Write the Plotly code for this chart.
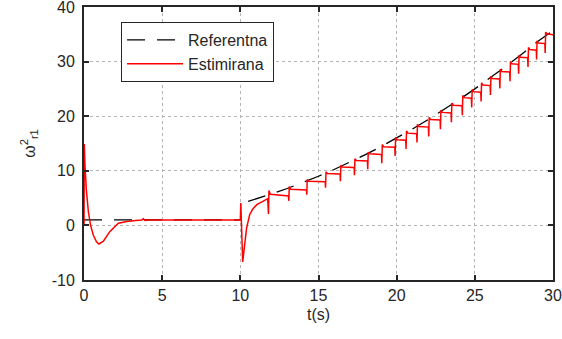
import plotly.graph_objects as go

# Reference (Referentna) values
ref_t = [0, 10, None, 10.5, 11, 12, 13, 14, 15, 16, 17, 18, 19, 20, 21, 22, 23, 24, 25, 26, 27, 28, 29, 30]
ref_v = [1, 1, None, 4.4, 4.84, 5.76, 6.76, 7.84, 9.0, 10.24, 11.56, 12.96, 14.44, 16.0, 17.64, 19.36,
         21.16, 23.04, 25.0, 27.04, 29.16, 31.36, 33.64, 35.7]

# Estimated (Estimirana) values
est_t = [0, 0.02, 0.06, 0.15, 0.28, 0.42, 0.6, 0.8, 0.95, 1.24, 1.66, 2.2, 2.73, 3.3, 3.7, 3.8, 3.9, 4.2, 5, 10.0,
         10.03, 10.15, 10.4, 10.6, 10.8, 11.05, 11.5, 11.75,
         11.8, 11.83, 11.92,
         13.08, 13.1, 13.13, 13.22,
         14.23, 14.25, 14.28, 14.37,
         15.43, 15.45, 15.48, 15.57,
         16.38, 16.4, 16.43, 16.52,
         17.28, 17.3, 17.33, 17.42,
         18.13, 18.15, 18.18, 18.27,
         19.03, 19.05, 19.08, 19.17,
         19.88, 19.9, 19.93, 20.02,
         20.58, 20.6, 20.63, 20.72,
         21.28, 21.3, 21.33, 21.42,
         22.03, 22.05, 22.08, 22.17,
         22.78, 22.8, 22.83, 22.92,
         23.48, 23.5, 23.53, 23.62,
         24.18, 24.2, 24.23, 24.32,
         24.78, 24.8, 24.83, 24.92,
         25.38, 25.4, 25.43, 25.52,
         25.98, 26.0, 26.03, 26.12,
         26.58, 26.6, 26.63, 26.72,
         27.23, 27.25, 27.28, 27.37,
         27.78, 27.8, 27.83, 27.92,
         28.38, 28.4, 28.43, 28.52,
         28.93, 28.95, 28.98, 29.07,
         29.48, 29.5, 29.53, 29.62, 30]
est_v = [0, 14.9, 11.1, 6.5, 2.5, 0.0, -1.8, -3.0, -3.4, -2.9, -1.1, 0.4, 0.73, 0.9, 1.0, 1.2, 0.9, 1.0, 1.0, 1.0,
         4.1, -6.7, -0.5, 2.0, 3.0, 3.8, 4.5, 4.9,
         2.1, 6.4, 5.7,
         5.4, 4.5, 7.1, 6.6,
         6.5, 5.6, 8.4, 8.1,
         8.0, 6.9, 9.8, 9.5,
         9.4, 8.1, 11.0, 10.7,
         10.6, 9.2, 12.2, 11.9,
         11.8, 10.3, 13.4, 13.1,
         13.0, 11.4, 14.8, 14.4,
         14.3, 12.7, 16.1, 15.7,
         15.6, 14.0, 17.3, 16.9,
         16.8, 15.2, 18.5, 18.1,
         18.0, 16.3, 19.8, 19.4,
         19.3, 17.6, 21.1, 20.7,
         20.6, 18.9, 22.4, 22.0,
         21.9, 20.2, 23.8, 23.4,
         23.3, 21.6, 24.9, 24.5,
         24.4, 22.7, 26.1, 25.7,
         25.6, 23.9, 27.3, 26.9,
         26.8, 25.1, 28.6, 28.2,
         28.1, 26.4, 30.0, 29.6,
         29.5, 27.8, 31.2, 30.8,
         30.7, 29.0, 32.6, 32.2,
         32.1, 30.4, 33.8, 33.4,
         33.3, 31.6, 35.4, 35.1, 34.9]

x_ticks = [0, 5, 10, 15, 20, 25, 30]
y_ticks = [-10, 0, 10, 20, 30, 40]
y_tick_labels = ["-10", "0", "10", "20", "30", "40"]

font_family = "Liberation Sans, Arial, sans-serif"
text_color = "#262626"

fig = go.Figure()
fig.add_trace(go.Scatter(x=ref_t, y=ref_v, mode="lines", name="Referentna",
                         line=dict(color="black", width=1.3, dash="18px,12px")))
fig.add_trace(go.Scatter(x=est_t, y=est_v, mode="lines", name="Estimirana",
                         line=dict(color="#ff0000", width=1.5)))

axis_common = dict(showline=True, linecolor="#262626", linewidth=2, mirror="ticks",
                   ticks="inside", ticklen=5, tickwidth=2, tickcolor="#262626",
                   showgrid=True, gridcolor="#b4b4b4", gridwidth=1, griddash="dot",
                   zeroline=False, automargin=False, ticklabeloverflow="allow",
                   tickfont=dict(family=font_family, size=16, color=text_color))

fig.update_xaxes(range=[0, 30], tickvals=x_ticks, **axis_common,
                 title=dict(text="t(s)", font=dict(family=font_family, size=16, color=text_color),
                            standoff=6))
fig.update_yaxes(range=[-10, 40], tickvals=y_ticks, ticktext=y_tick_labels, ticklabelstandoff=4,
                 **axis_common,
                 title=dict(text="ω<sup>2</sup><sub>r1</sub>",
                            font=dict(family=font_family, size=16, color=text_color),
                            standoff=12))

fig.update_layout(
    width=562, height=339,
    margin=dict(l=84, r=9, t=7, b=59, autoexpand=False),
    paper_bgcolor="white", plot_bgcolor="white",
    showlegend=True,
    legend=dict(x=0.079, y=0.945, xanchor="left", yanchor="top",
                bgcolor="white", bordercolor="#262626", borderwidth=1,
                font=dict(family=font_family, size=16, color=text_color),
                itemwidth=56, tracegroupgap=0),
)

fig.write_html("out.html")
